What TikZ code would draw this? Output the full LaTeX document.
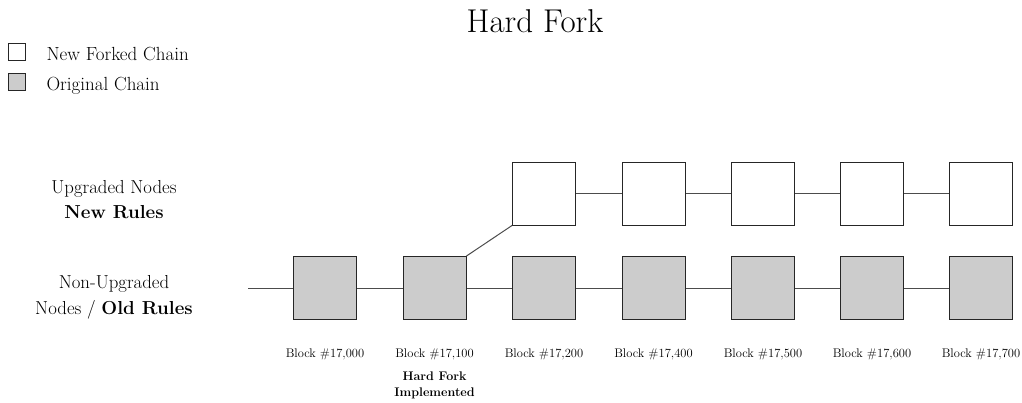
\documentclass[tikz,border=0pt]{standalone}
\begin{document}
\begin{tikzpicture}[x=1pt,y=-1pt,
  blk/.style={draw=black!85,line width=1pt,minimum size=63pt,inner sep=0pt},
  oldblk/.style={blk,fill=black!20},
  newblk/.style={blk,fill=white},
  link/.style={draw=black!70,line width=1pt},
  leg/.style={draw=black!85,line width=0.8pt,minimum size=17pt,inner sep=0pt},
  lbl/.style={font=\fontsize{12.5}{15}\selectfont,anchor=base},
  hfl/.style={font=\fontsize{12.5}{15}\selectfont\bfseries,anchor=base},
  side/.style={font=\fontsize{18.8}{25}\selectfont,align=center,anchor=base}]
\useasboundingbox (0,0) rectangle (1022,402);
\node[anchor=base,font=\fontsize{33}{36}\selectfont] (title) at (535,32) {Hard Fork};
% legend
\node[leg,fill=white] (l1) at (17,52) {};
\node[leg,fill=black!20] (l2) at (17,81.5) {};
\node[anchor=base west,font=\fontsize{19}{22}\selectfont] (l1t) at (43,60) {New Forked Chain};
\node[anchor=base west,font=\fontsize{19}{22}\selectfont] (l2t) at (43,90) {Original Chain};
% side labels
\node[side] (up1) at (114,193) {Upgraded Nodes};
\node[side] (up2) at (114,218) {\bfseries New Rules};
\node[side] (nu1) at (114,288) {Non-Upgraded};
\node[side] (nu2) at (114,314) {Nodes / \bfseries Old Rules};
% blocks
\foreach \i/\x in {1/325,2/434.5,3/544,4/653.5,5/763,6/872,7/981}{
  \node[oldblk] (b\i) at (\x,288) {};
}
\foreach \i/\x in {3/544,4/653.5,5/763,6/872,7/981}{
  \node[newblk] (t\i) at (\x,193.5) {};
}
\coordinate (start) at (248,288);
\draw[link] (start) -- (b1.west);
\foreach \i/\j in {1/2,2/3,3/4,4/5,5/6,6/7}{
  \draw[link] (b\i.east) -- (b\j.west);
}
\foreach \i/\j in {3/4,4/5,5/6,6/7}{
  \draw[link] (t\i.east) -- (t\j.west);
}
\draw[link] (b2.north east) -- (t3.south west);
% block labels
\foreach \i/\x/\t in {1/325/{17,000},2/434.5/{17,100},3/544/{17,200},4/653.5/{17,400},5/763/{17,500},6/872/{17,600},7/981/{17,700}}{
  \node[lbl] (c\i) at (\x,357) {Block \#\t};
}
\node[hfl] (hf1) at (434.5,380) {Hard Fork};
\node[hfl] (hf2) at (434.5,396) {Implemented};
\end{tikzpicture}
\end{document}
